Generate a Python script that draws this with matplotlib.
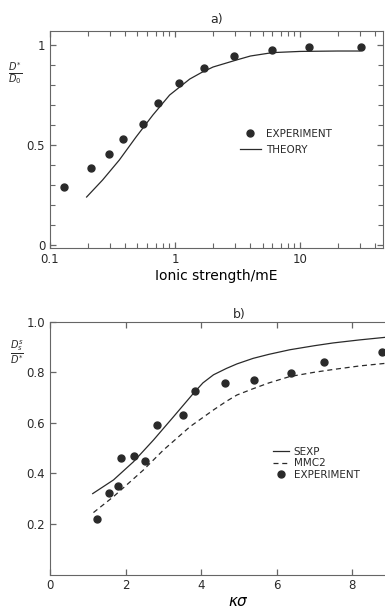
import matplotlib
matplotlib.use('Agg')
import matplotlib.pyplot as plt
from matplotlib.lines import Line2D
from matplotlib.ticker import FixedLocator, NullFormatter

# panel a) : D*/D0 vs ionic strength
a_exp_x = [0.13, 0.212, 0.298, 0.381, 0.551, 0.727, 1.07, 1.70, 2.97, 5.9, 11.8, 30.6]
a_exp_y = [0.29, 0.387, 0.455, 0.528, 0.605, 0.708, 0.808, 0.883, 0.947, 0.975, 0.99, 0.99]
a_th_x = [0.196, 0.263, 0.358, 0.487, 0.664, 0.904, 1.31, 1.62, 2.01, 3.09, 4.0, 6.0, 10, 20, 30]
a_th_y = [0.24, 0.325, 0.425, 0.54, 0.65, 0.75, 0.83, 0.862, 0.89, 0.925, 0.945, 0.962, 0.968, 0.97, 0.97]
a_minor = [0.2, 0.3, 0.4, 0.5, 0.6, 0.7, 0.8, 0.9, 2, 3, 4, 5, 6, 7, 8, 9, 20, 30, 40]

# panel b) : Ds/D* vs kappa sigma
b_exp_x = [1.24, 1.55, 1.81, 1.87, 2.23, 2.52, 2.83, 3.51, 3.84, 4.64, 5.41, 6.37, 7.26, 8.80]
b_exp_y = [0.22, 0.321, 0.351, 0.46, 0.47, 0.45, 0.59, 0.632, 0.727, 0.756, 0.769, 0.797, 0.841, 0.879]
sexp_x = [1.13, 1.68, 2.21, 2.74, 3.27, 3.80, 4.05, 4.33, 4.67, 4.95, 5.38, 5.8, 6.35, 7.0, 7.5, 8.2, 9.0]
sexp_y = [0.32, 0.374, 0.446, 0.532, 0.624, 0.717, 0.758, 0.79, 0.815, 0.833, 0.855, 0.871, 0.889, 0.905, 0.916, 0.928, 0.94]
mmc2_x = [1.15, 1.68, 2.47, 3.0, 3.71, 4.33, 4.67, 4.95, 5.38, 5.8, 6.35, 7.0, 7.5, 8.2, 9.0]
mmc2_y = [0.245, 0.308, 0.413, 0.492, 0.585, 0.651, 0.685, 0.71, 0.735, 0.758, 0.783, 0.80, 0.811, 0.825, 0.837]

ink = '#2a2a2a'
frame = '#666666'
plt.rcParams['font.family'] = 'DejaVu Sans'
plt.rcParams['text.color'] = ink
plt.rcParams['xtick.color'] = frame
plt.rcParams['ytick.color'] = frame
plt.rcParams['xtick.labelcolor'] = ink
plt.rcParams['ytick.labelcolor'] = ink

fig = plt.figure(figsize=(3.85, 6.13), dpi=100)

# ---- a) ----
ax1 = fig.add_axes([0.130, 0.5954, 0.865, 0.354])
ax1.set_xscale('log')
ax1.plot(a_th_x, a_th_y, color=ink, lw=0.9)
ax1.plot(a_exp_x, a_exp_y, 'o', color=ink, ms=5)
ax1.set_xlim(0.1, 46)
ax1.set_ylim(-0.015, 1.07)
ax1.set_xticks([0.1, 1, 10])
ax1.set_xticklabels(['0.1', '1', '10'])
ax1.xaxis.set_minor_locator(FixedLocator(a_minor))
ax1.xaxis.set_minor_formatter(NullFormatter())
ax1.set_yticks([0, 0.5, 1])
ax1.set_yticklabels(['0', '0.5', '1'])
ax1.yaxis.set_minor_locator(FixedLocator([i / 10 for i in range(11)]))
ax1.yaxis.set_minor_formatter(NullFormatter())
ax1.tick_params(which='both', direction='in', top=True, right=True, labelsize=8.5)
ax1.tick_params(which='major', length=4.5, width=0.9)
ax1.tick_params(which='minor', length=3.5, width=0.8)
ax1.set_xlabel('Ionic strength/mE', fontsize=10, labelpad=2)
ax1.set_title('a)', fontsize=9, pad=6)
ax1.text(-0.105, 0.80, r'$\frac{D^{*}}{D_{0}}$', transform=ax1.transAxes, fontsize=10, ha='center', va='center')
h1 = [Line2D([], [], ls='none', marker='o', color=ink, ms=5),
      Line2D([], [], color=ink, lw=0.9)]
ax1.legend(h1, ['EXPERIMENT', 'THEORY'], loc='upper left', bbox_to_anchor=(0.57, 0.55),
           frameon=False, fontsize=7.5, handlelength=2.0, handletextpad=0.5,
           labelspacing=0.6, borderpad=0, borderaxespad=0)

# ---- b) ----
ax2 = fig.add_axes([0.130, 0.0628, 0.9805, 0.4124])
ax2.plot(sexp_x, sexp_y, color=ink, lw=0.9)
ax2.plot(mmc2_x, mmc2_y, color=ink, lw=0.9, ls=(0, (4, 3)))
ax2.plot(b_exp_x, b_exp_y, 'o', color=ink, ms=5)
ax2.set_xlim(0, 10)
ax2.set_ylim(0, 1.0)
ax2.set_xticks([0, 2, 4, 6, 8])
ax2.set_yticks([0.2, 0.4, 0.6, 0.8, 1.0])
ax2.set_yticklabels(['0.2', '0.4', '0.6', '0.8', '1.0'])
ax2.tick_params(direction='in', top=True, right=True, labelsize=8.5, length=4.5, width=0.9)
ax2.set_xlabel(r'$\kappa\sigma$', fontsize=11, labelpad=1)
ax2.set_title('b)', fontsize=9, pad=3)
ax2.text(-0.087, 0.876, r'$\frac{D_{s}^{s}}{D^{*}}$', transform=ax2.transAxes, fontsize=10, ha='center', va='center')
h2 = [Line2D([], [], color=ink, lw=0.9),
      Line2D([], [], color=ink, lw=0.9, ls=(0, (4, 3))),
      Line2D([], [], ls='none', marker='o', color=ink, ms=5)]
ax2.legend(h2, ['SEXP', 'MMC2', 'EXPERIMENT'], loc='upper left', bbox_to_anchor=(0.59, 0.505),
           frameon=False, fontsize=7.5, handlelength=1.6, handletextpad=0.4,
           labelspacing=0.15, borderpad=0, borderaxespad=0)

for ax in (ax1, ax2):
    for s in ax.spines.values():
        s.set_color(frame)
        s.set_linewidth(0.8)

fig.savefig('out.png', dpi=100, facecolor='white')
